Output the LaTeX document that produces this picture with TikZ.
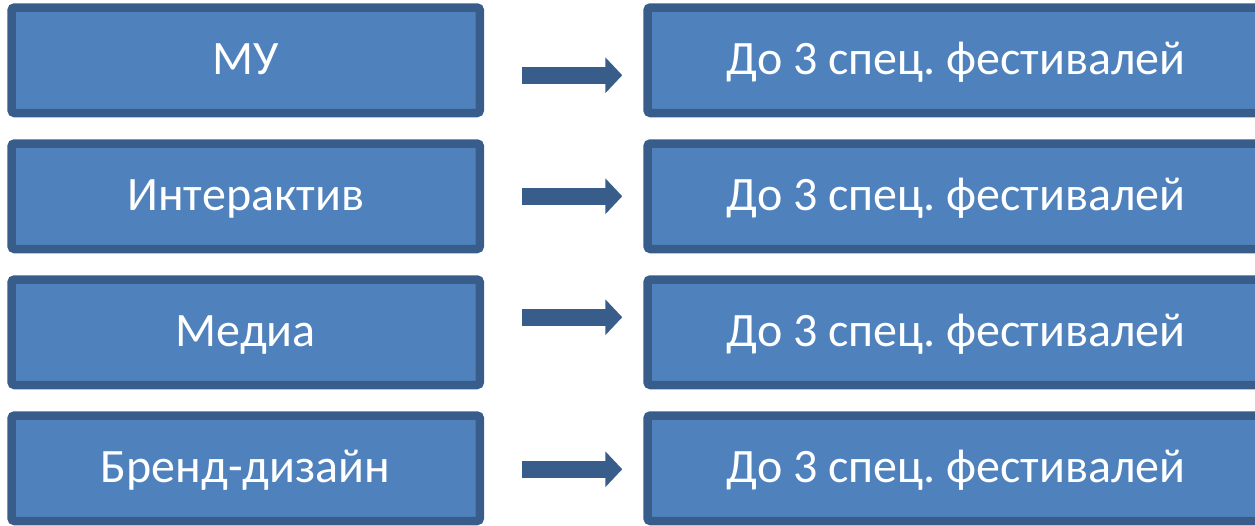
\documentclass[tikz,border=0pt]{standalone}
\usepackage{fontspec}
\setmainfont{Carlito}
\usepackage{tikz}
\usetikzlibrary{arrows.meta,positioning}

\definecolor{boxfill}{HTML}{4F81BD}
\definecolor{boxline}{HTML}{385D8A}
\frenchspacing

\begin{document}
\begin{tikzpicture}[x=1pt,y=-1pt]
  \tikzset{
    festbox/.style={draw=boxline,fill=boxfill,rectangle,rounded corners=3pt,line width=8.5pt,
      text=white,font=\fontsize{48}{56}\selectfont,inner sep=0pt,text height=31pt,text depth=2pt},
    leftbox/.style={festbox,minimum width=468.3pt,minimum height=105.5pt},
    rightbox/.style={festbox,minimum width=617.5pt,minimum height=105.5pt},
    blockarrow/.style={draw=boxline,line width=17pt,-{Triangle[width=35pt,length=17pt]}}
  }

  \useasboundingbox (0,0) rectangle (1255,525);

%%%%%%%%%%%%%%%%%%%%%%%%%%
% LEFT
\node[leftbox] at (245.7,60.25) (LMU) {МУ};
\node[leftbox] at (245.7,196.25) (LInter) {Интерактив};
\node[leftbox] at (245.7,332.25) (LMedia) {Медиа};
\node[leftbox] at (245.7,468.25) (LBrand) {Бренд-дизайн};

%%%%%%%%%%%%%%%%%%%%%%%%%%
% RIGHT
\node[rightbox] at (956.25,60.25) (RMU) {До 3 спец. фестивалей};
\node[rightbox] at (956.25,196.25) (RInter) {До 3 спец. фестивалей};
\node[rightbox] at (956.25,332.25) (RMedia) {До 3 спец. фестивалей};
\node[rightbox] at (956.25,468.25) (RBrand) {До 3 спец. фестивалей};

%%%
% ARROWS
\draw [blockarrow] ([xshift=38pt,yshift=-15pt]LMU.east) -- ([xshift=-21pt,yshift=-15pt]RMU.west);
\draw [blockarrow] ([xshift=38pt]LInter.east) -- ([xshift=-21pt]RInter.west);
\draw [blockarrow] ([xshift=38pt,yshift=15pt]LMedia.east) -- ([xshift=-21pt,yshift=15pt]RMedia.west);
\draw [blockarrow] ([xshift=38pt,yshift=-1pt]LBrand.east) -- ([xshift=-21pt,yshift=-1pt]RBrand.west);

\end{tikzpicture}
\end{document}
